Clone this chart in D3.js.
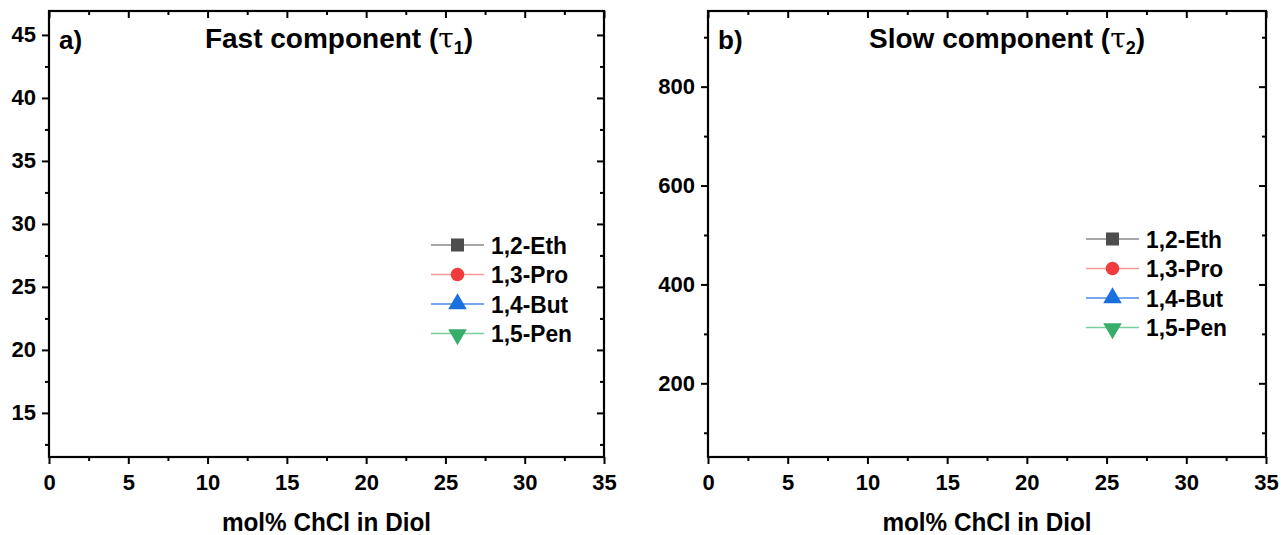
<!DOCTYPE html>
<html><head><meta charset="utf-8">
<script src="https://cdn.jsdelivr.net/npm/d3@7"></script>
<style>
body{margin:0;background:#fff;}
svg text{font-family:"Liberation Sans",Arial,sans-serif;font-weight:bold;fill:#000;}
</style></head>
<body>
<svg id="c" width="1281" height="535"></svg>
<script>
// ---- data ----
const seriesNames = ["1,2-Eth","1,3-Pro","1,4-But","1,5-Pen"];
const seriesColors = ["#4d4d4d","#f03c3c","#1a6fdf","#37ad6b"];
const lineColors = ["#8a8a8a","#f29a9a","#4a8ae6","#7ccb9c"];
const seriesSymbols = ["square","circle","triangle","triangleDown"];
// no data points are visible in either panel
const fastValues = [[],[],[],[]];   // tau1
const slowValues = [[],[],[],[]];   // tau2
const xTicks = [0,5,10,15,20,25,30,35];
const xDomain = [0,35];
const fastYTicks = [15,20,25,30,35,40,45];
const fastYDomain = [11.5,46.9];
const slowYTicks = [200,400,600,800];
const slowYDomain = [51,953];

const svg = d3.select("#c");

function symbolPath(type){
  if(type==="square") return d3.symbol(d3.symbolSquare,170)();
  if(type==="circle") return d3.symbol(d3.symbolCircle,145)();
  return d3.symbol(d3.symbolTriangle,150)();
}

function panel(o){
  const g = svg.append("g");
  const x = d3.scaleLinear().domain(xDomain).range([o.left,o.right]);
  const y = d3.scaleLinear().domain(o.yDomain).range([o.bottom,o.top]);
  const xMinor = d3.range(2.5,35,5);
  const yMinor = o.yMinor;

  const styleAxis = sel=>{
    sel.select(".domain").remove();
    sel.selectAll("line").attr("stroke","#000").attr("stroke-width",2);
  };
  // bottom
  g.append("g").attr("transform",`translate(0,${o.bottom})`)
    .call(d3.axisBottom(x).tickValues(xTicks).tickSize(7).tickPadding(10).tickFormat(d3.format("d")))
    .call(styleAxis).call(s=>s.selectAll("text").attr("font-size",22));
  g.append("g").attr("transform",`translate(0,${o.bottom})`)
    .call(d3.axisBottom(x).tickValues(xMinor).tickSize(4).tickFormat(""))
    .call(styleAxis);
  // top (inward)
  g.append("g").attr("transform",`translate(0,${o.top})`)
    .call(d3.axisTop(x).tickValues(xTicks).tickSize(-7).tickFormat(""))
    .call(styleAxis);
  g.append("g").attr("transform",`translate(0,${o.top})`)
    .call(d3.axisTop(x).tickValues(xMinor).tickSize(-4).tickFormat(""))
    .call(styleAxis);
  // left
  g.append("g").attr("transform",`translate(${o.left},0)`)
    .call(d3.axisLeft(y).tickValues(o.yTicks).tickSize(7).tickPadding(6).tickFormat(d3.format("d")))
    .call(styleAxis).call(s=>s.selectAll("text").attr("font-size",22));
  g.append("g").attr("transform",`translate(${o.left},0)`)
    .call(d3.axisLeft(y).tickValues(yMinor).tickSize(4).tickFormat(""))
    .call(styleAxis);
  // right (inward)
  g.append("g").attr("transform",`translate(${o.right},0)`)
    .call(d3.axisRight(y).tickValues(o.yTicks).tickSize(-7).tickFormat(""))
    .call(styleAxis);
  g.append("g").attr("transform",`translate(${o.right},0)`)
    .call(d3.axisRight(y).tickValues(yMinor).tickSize(-4).tickFormat(""))
    .call(styleAxis);

  // series (empty)
  o.values.forEach((vals,i)=>{
    g.append("path").datum(vals).attr("fill","none").attr("stroke",lineColors[i])
      .attr("d",d3.line().x(d=>x(d[0])).y(d=>y(d[1])));
  });

  // frame
  g.append("rect").attr("x",o.left).attr("y",o.top)
    .attr("width",o.right-o.left).attr("height",o.bottom-o.top)
    .attr("fill","none").attr("stroke","#000").attr("stroke-width",2.2);

  // panel label + title
  g.append("text").attr("x",o.left+10).attr("y",o.top+38).attr("font-size",26).text(o.label);
  const t = g.append("text").attr("x",o.titleX).attr("y",o.top+37).attr("font-size",28).attr("text-anchor","middle");
  t.append("tspan").text(o.title+" (");
  t.append("tspan").attr("font-family","DejaVu Serif").attr("font-weight","normal").text("τ");
  t.append("tspan").attr("font-size",18).attr("dy",6).text(o.sub);
  t.append("tspan").attr("dy",-6).text(")");

  // x axis title
  g.append("text").attr("transform",`translate(${(o.left+o.right)/2},531) scale(0.935,1)`)
    .attr("text-anchor","middle").attr("font-size",26).text("mol% ChCl in Diol");

  // legend
  seriesNames.forEach((n,i)=>{
    const yy = o.legY + i*29.5;
    g.append("line").attr("x1",o.legX).attr("x2",o.legX+53).attr("y1",yy).attr("y2",yy)
      .attr("stroke",lineColors[i]).attr("stroke-width",1.3);
    g.append("path").attr("d",symbolPath(seriesSymbols[i]))
      .attr("transform",`translate(${o.legX+26.5},${yy+(i===3?1:0)})${i===3?" rotate(180)":""}`)
      .attr("fill",seriesColors[i]);
    g.append("text").attr("transform",`translate(${o.legX+60},${yy}) scale(0.93,1)`)
      .attr("dy","0.36em").attr("font-size",24.5).text(n);
  });
}

panel({left:49,right:604,top:11,bottom:457,yDomain:fastYDomain,yTicks:fastYTicks,
  yMinor:d3.range(12.5,47,5),values:fastValues,label:"a)",title:"Fast component",sub:"1",
  titleX:339,legX:431,legY:245});
panel({left:708,right:1266,top:11,bottom:457,yDomain:slowYDomain,yTicks:slowYTicks,
  yMinor:[100,300,500,700,900],values:slowValues,label:"b)",title:"Slow component",sub:"2",
  titleX:1007,legX:1086,legY:239});
</script>
</body></html>
